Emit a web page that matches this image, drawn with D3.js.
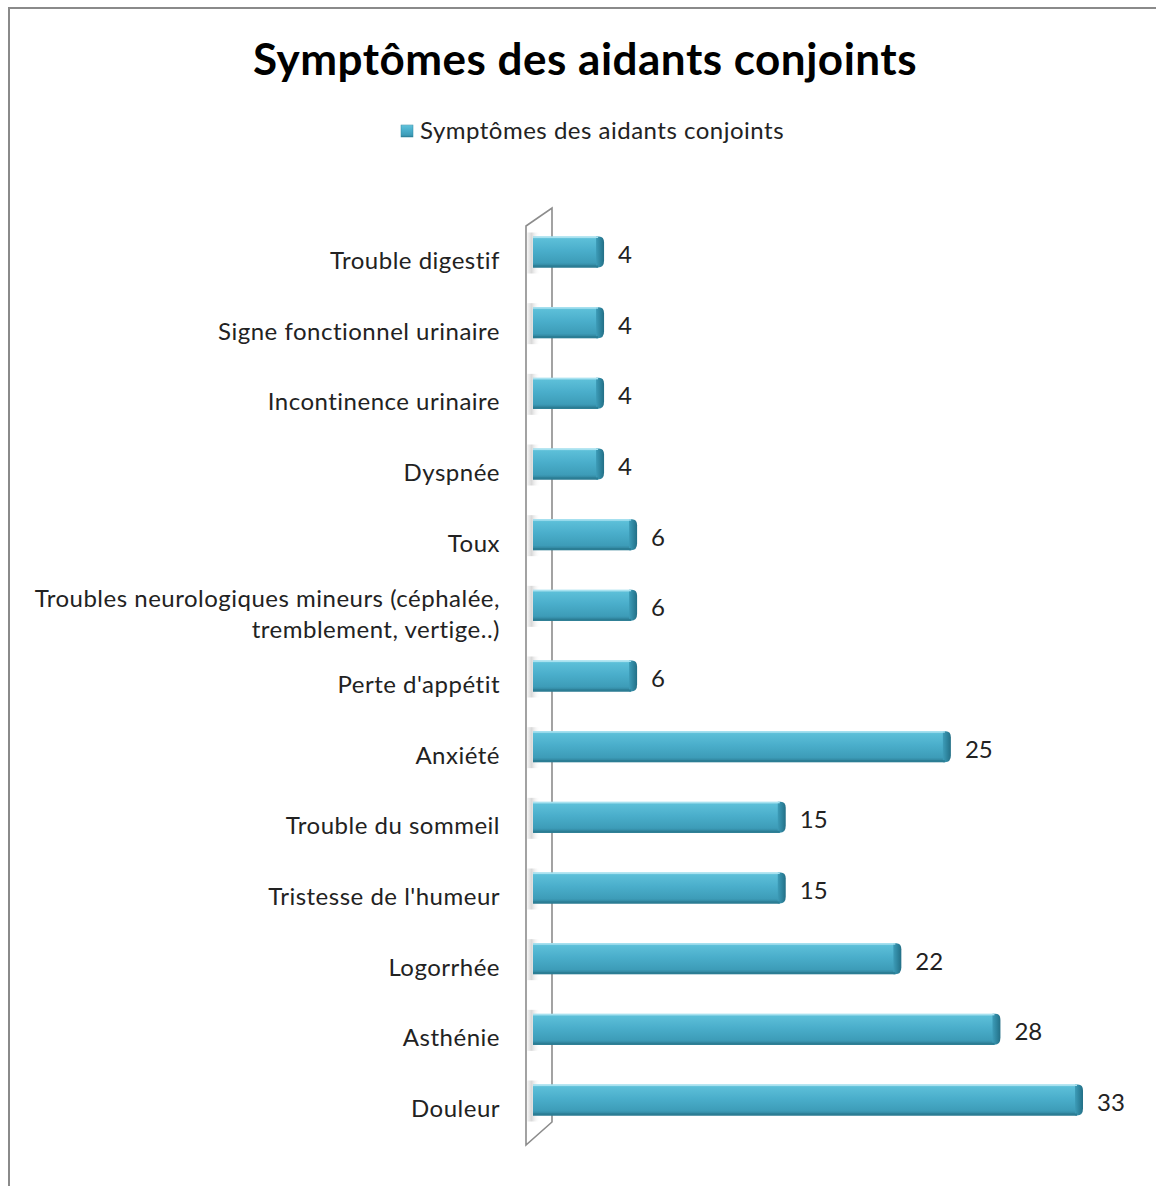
<!DOCTYPE html>
<html>
<head>
<meta charset="utf-8">
<script src="https://cdn.jsdelivr.net/npm/d3@7/dist/d3.min.js"></script>
<style>
html,body{margin:0;padding:0;background:#fff;}
svg{display:block;}
</style>
</head>
<body>
<svg id="chart" width="1156" height="1186"></svg>
<script>
// ---- data (top to bottom as displayed) ----
const categories = [
  "Trouble digestif",
  "Signe fonctionnel urinaire",
  "Incontinence urinaire",
  "Dyspnée",
  "Toux",
  "Troubles neurologiques mineurs (céphalée,|tremblement, vertige..)",
  "Perte d'appétit",
  "Anxiété",
  "Trouble du sommeil",
  "Tristesse de l'humeur",
  "Logorrhée",
  "Asthénie",
  "Douleur"
];
const values = [4, 4, 4, 4, 6, 6, 6, 25, 15, 15, 22, 28, 33];
const chartTitle = "Symptômes des aidants conjoints";
const seriesName = "Symptômes des aidants conjoints";

const svg = d3.select("#chart");
const FONT = "Lato, 'Open Sans', sans-serif";

// defs
const defs = svg.append("defs");
const g1 = defs.append("linearGradient").attr("id","barGrad").attr("x1",0).attr("y1",0).attr("x2",0).attr("y2",1);
[[0,"#8fd6e8"],[0.08,"#5cbfd8"],[0.45,"#4aaecb"],[0.85,"#3d9cb8"],[1,"#2a7890"]].forEach(([o,c])=>g1.append("stop").attr("offset",o).attr("stop-color",c));
const g2 = defs.append("linearGradient").attr("id","capGrad").attr("x1",0).attr("y1",0).attr("x2",1).attr("y2",0);
[[0,"#3d9cb8"],[0.5,"#2f86a0"],[1,"#236f86"]].forEach(([o,c])=>g2.append("stop").attr("offset",o).attr("stop-color",c));
const g3 = defs.append("linearGradient").attr("id","wallShadow").attr("x1",0).attr("y1",0).attr("x2",1).attr("y2",0);
[[0,"#bdbdbd",0.0],[0.4,"#c8c8c8",0.7],[1,"#ffffff",0]].forEach(([o,c,a])=>g3.append("stop").attr("offset",o).attr("stop-color",c).attr("stop-opacity",a));

// frame (left and top edges)
svg.append("line").attr("x1",9).attr("y1",8).attr("x2",9).attr("y2",1186).attr("stroke","#8a8a8a").attr("stroke-width",2);
svg.append("line").attr("x1",8).attr("y1",8).attr("x2",1156).attr("y2",8).attr("stroke","#8a8a8a").attr("stroke-width",2);

// title
svg.append("text").attr("x",585).attr("y",75).attr("text-anchor","middle")
  .attr("font-family",FONT).attr("font-weight","bold").attr("font-size",44).attr("letter-spacing","0.5px").attr("fill","#000")
  .text(chartTitle);

// legend
svg.append("rect").attr("x",401).attr("y",125).attr("width",12).attr("height",12).attr("fill","url(#barGrad)").attr("stroke","#2f86a0").attr("stroke-width",0.5);
svg.append("text").attr("x",420).attr("y",139).attr("font-family",FONT).attr("font-size",24).attr("letter-spacing","0.5px").attr("fill","#222").text(seriesName);

// scales
const x = d3.scaleLinear().domain([0, 33]).range([538, 1083]);
const y = d3.scalePoint().domain(categories).range([252, 1100]);
const barH = 31;

// wall (3D side wall)
svg.append("path")
  .attr("d", "M526,226 L552,208 L552,1122 L526,1145 Z")
  .attr("fill","#ffffff").attr("stroke","#8c8c8c").attr("stroke-width",1.6);

// bars
const bars = svg.append("g");
categories.forEach((c,i)=>{
  const v = values[i];
  const cy = y(c);
  const x0 = x(0) - 5, x1 = x(v);
  const top = cy - barH/2;
  bars.append("rect").attr("x",526).attr("y",top-4).attr("width",14).attr("height",barH+10).attr("fill","url(#wallShadow)");
  bars.append("rect").attr("x",x0).attr("y",top).attr("width",Math.max(0,x1-x0-6)).attr("height",barH).attr("fill","url(#barGrad)");
  bars.append("path")
    .attr("d",`M${x1-8},${top} L${x1-5},${top} Q${x1},${top} ${x1},${top+6} L${x1},${top+barH-7} Q${x1},${top+barH} ${x1-6},${top+barH} L${x1-8},${top+barH} Z`)
    .attr("fill","url(#capGrad)");
  bars.append("rect").attr("x",x0).attr("y",top).attr("width",Math.max(0,x1-x0-6)).attr("height",1.5).attr("fill","#a8e2f0");
  bars.append("rect").attr("x",x0).attr("y",top+barH-2).attr("width",Math.max(0,x1-x0-6)).attr("height",2).attr("fill","#2b7d94");
  bars.append("text").attr("x",x1+14).attr("y",cy+5).attr("dominant-baseline","middle")
    .attr("font-family",FONT).attr("font-size",24).attr("fill","#222").text(v);
  const lines = c.split("|");
  const lh = 31;
  const cyl = cy + 11;
  lines.forEach((ln,j)=>{
    bars.append("text").attr("x",500).attr("y",cyl + (j-(lines.length-1)/2)*lh).attr("dominant-baseline","middle")
      .attr("text-anchor","end").attr("font-family",FONT).attr("font-size",24).attr("letter-spacing","0.5px").attr("fill","#222").text(ln);
  });
});
</script>
</body>
</html>
